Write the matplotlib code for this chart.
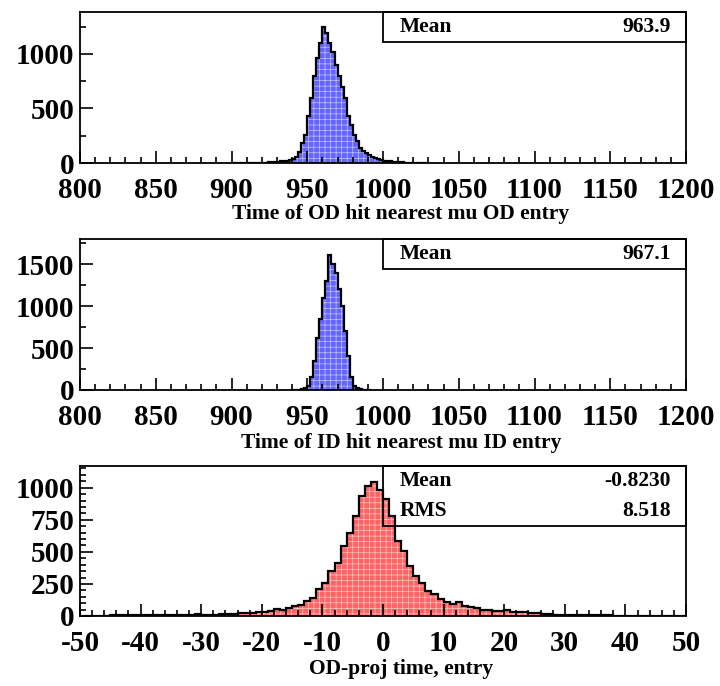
import numpy as np
import matplotlib
matplotlib.use("Agg")
import matplotlib.pyplot as plt
from matplotlib.ticker import MultipleLocator

plt.rcParams['font.family'] = 'Liberation Serif'
plt.rcParams['font.weight'] = 'bold'
plt.rcParams['axes.unicode_minus'] = False
plt.rcParams['hatch.linewidth'] = 0.5

# OD hit time, 2 ns bins starting at 900
od_start = 900
od_width = 2
od_counts = [0, 0, 0, 0, 0, 0, 0, 0, 1, 2,
             3, 4, 6, 8, 10, 12, 15, 18, 22, 27,
             40, 58, 104, 180, 257, 431, 600, 800, 960, 1100,
             1250, 1190, 1100, 1020, 900, 800, 700, 600, 430, 350,
             260, 200, 135, 110, 90, 70, 55, 45, 38, 30,
             22, 18, 14, 10, 8, 6, 5, 4, 3, 2,
             2, 1, 1, 0, 0]
od_mean = "963.9"

# ID hit time, 2 ns bins starting at 940
id_start = 940
id_width = 2
id_counts = [1, 2, 3, 8, 20, 50, 150, 350, 620, 850,
             1100, 1300, 1615, 1500, 1400, 1200, 1000, 700, 400, 150,
             50, 20, 8, 4, 2, 1]
id_mean = "967.1"

# OD - projected time, 1 ns bins from -50 to 50
dt_start = -50
dt_width = 1
dt_counts = [2, 2, 3, 3, 3, 4, 4, 4, 5, 5,
             6, 6, 7, 7, 8, 8, 9, 10, 11, 12,
             8, 10, 11, 12, 15, 18, 20, 22, 25, 28,
             34, 36, 54, 49, 59, 75, 85, 119, 144, 209,
             261, 351, 415, 544, 648, 777, 937, 1014, 1047, 983,
             913, 782, 583, 506, 390, 312, 261, 196, 170, 132,
             111, 93, 106, 75, 67, 65, 46, 46, 40, 38,
             45, 35, 30, 28, 22, 24, 15, 12, 10, 8,
             8, 7, 6, 6, 5, 5, 4, 4, 3, 3,
             3, 2, 2, 2, 2, 1, 1, 1, 1, 1]
dt_mean = "-0.8230"
dt_rms = "8.518"

W, H = 720, 686
fig = plt.figure(figsize=(W / 100, H / 100), dpi=100)


def make_axes(top, bottom, left=80, right=686):
    return fig.add_axes([left / W, 1 - bottom / H, (right - left) / W, (bottom - top) / H])


def draw_hist(ax, start, width, counts, color, hatch_color):
    edges = start + width * np.arange(len(counts) + 1)
    ax.stairs(counts, edges, fill=True, facecolor=color, edgecolor=hatch_color,
              hatch='+++', linewidth=0)
    ax.stairs(counts, edges, color='black', linewidth=1.6)


def style_axes(ax, xlim, ylim, xmaj, xmin, ymaj, ymin):
    ax.set_xlim(*xlim)
    ax.set_ylim(*ylim)
    ax.xaxis.set_major_locator(MultipleLocator(xmaj))
    ax.xaxis.set_minor_locator(MultipleLocator(xmin))
    ax.yaxis.set_major_locator(MultipleLocator(ymaj))
    ax.yaxis.set_minor_locator(MultipleLocator(ymin))
    ax.tick_params(which='both', direction='in', top=False, right=False, width=1.2)
    ax.tick_params(which='major', length=9)
    ax.tick_params(which='minor', length=4.5)
    ax.tick_params(axis='x', which='major', labelsize=21, pad=10)
    ax.tick_params(axis='y', which='major', labelsize=21, pad=4)
    for s in ax.spines.values():
        s.set_linewidth(1.3)


def stat_box(ax, rows):
    n = len(rows)
    hgt = 0.2 * n
    ax.add_patch(plt.Rectangle((0.5, 1 - hgt), 0.5, hgt, transform=ax.transAxes,
                               fill=False, edgecolor='black', linewidth=1.3, clip_on=False))
    for i, (name, val) in enumerate(rows):
        y = 1 - hgt * (i + 0.5) / n
        ax.text(0.528, y, name, transform=ax.transAxes, fontsize=15.5, ha='left', va='center')
        ax.text(0.975, y, val, transform=ax.transAxes, fontsize=15.5, ha='right', va='center')


ax1 = make_axes(12, 163)
draw_hist(ax1, od_start, od_width, od_counts, '#6464ff', '#c4c4ff')
style_axes(ax1, (800, 1200), (0, 1385), 50, 10, 500, 250)
stat_box(ax1, [("Mean", od_mean)])
fig.text(401 / W, 1 - 214 / H, "Time of OD hit nearest mu OD entry", fontsize=15.5,
         ha='center', va='center')

ax2 = make_axes(239, 390)
draw_hist(ax2, id_start, id_width, id_counts, '#6464ff', '#c4c4ff')
style_axes(ax2, (800, 1200), (0, 1800), 50, 10, 500, 250)
stat_box(ax2, [("Mean", id_mean)])
fig.text(401 / W, 1 - 443 / H, "Time of ID hit nearest mu ID entry", fontsize=15.5,
         ha='center', va='center')

ax3 = make_axes(466, 616)
draw_hist(ax3, dt_start, dt_width, dt_counts, '#ff6464', '#ffc4c4')
style_axes(ax3, (-50, 50), (0, 1169), 10, 2, 250, 50)
stat_box(ax3, [("Mean", dt_mean), ("RMS", dt_rms)])
fig.text(401 / W, 1 - 669 / H, "OD-proj time, entry", fontsize=15.5,
         ha='center', va='center')

fig.savefig("out.png", dpi=100)
